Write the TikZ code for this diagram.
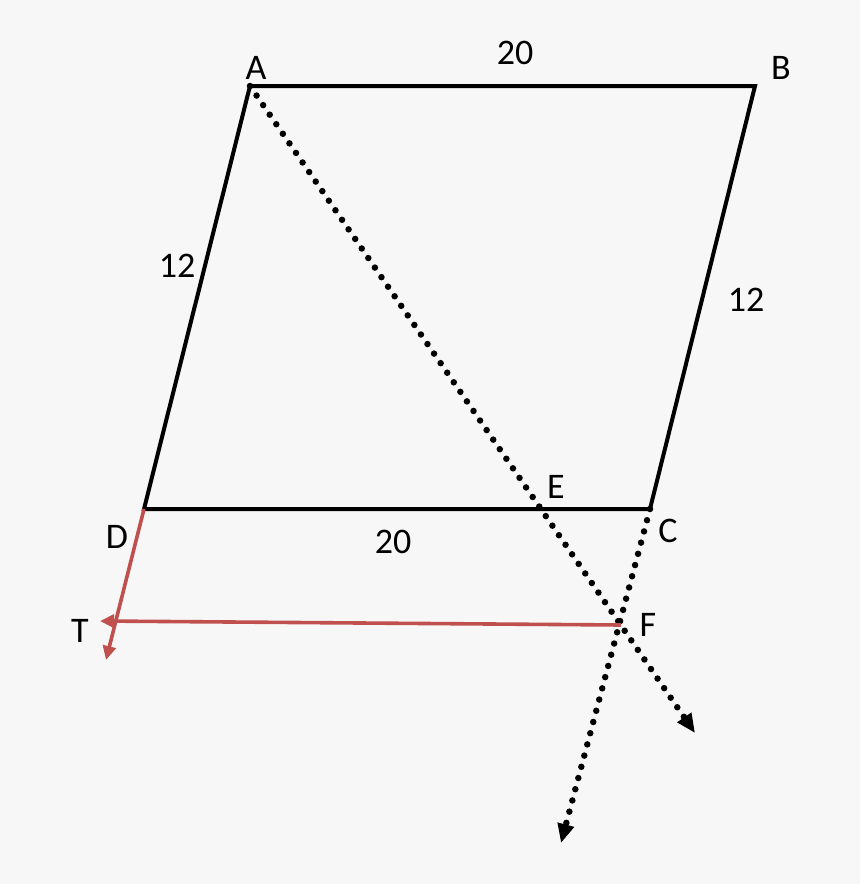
\documentclass[tikz,border=0pt]{standalone}
\usepackage{fontspec}
\setmainfont{Carlito}
\usetikzlibrary{arrows.meta}
\definecolor{bg}{HTML}{F7F7F7}
\definecolor{redl}{HTML}{C0504D}
\begin{document}
\begin{tikzpicture}[x=1pt,y=-1pt,
  edge/.style={line width=4pt,black,line join=miter},
  dotline/.style={line width=6.5pt,line cap=round,dash pattern=on 0pt off 11.6pt,-{Triangle[length=19pt,width=16pt]}},
  redline/.style={line width=3.6pt,redl,-{Triangle[length=14pt,width=13pt]}},
  lab/.style={font=\fontsize{36}{36}\selectfont,inner sep=0pt}]
\fill[bg] (0,0) rectangle (860,884);
\useasboundingbox (0,0) rectangle (860,884);
\coordinate (A) at (250,86);
\coordinate (B) at (755,86);
\coordinate (C) at (650,509);
\coordinate (D) at (144,509);
\coordinate (F) at (621,625);
\coordinate (T) at (100,621);
\coordinate (P) at (695,733);
\coordinate (Q) at (561,843);
\coordinate (R) at (106,660);
\draw[edge] (A) -- (B) -- (C) -- (D) -- cycle;
\draw[dotline] (A) -- (P);
\draw[dotline] (C) -- (Q);
\draw[redline] (D) -- (R);
\draw[redline] (F) -- (T);
\node[lab] (lA) at (256,68) {A};
\node[lab] (lB) at (781,68) {B};
\node[lab] (lC) at (668,531) {C};
\node[lab] (lD) at (117,537) {D};
\node[lab] (lE) at (556,487) {E};
\node[lab] (lF) at (648,625) {F};
\node[lab] (lT) at (80,631) {T};
\node[lab] (l1) at (515,53) {20};
\node[lab] (l2) at (393,542) {20};
\node[lab] (l3) at (177,266) {12};
\node[lab] (l4) at (746,300) {12};
\end{tikzpicture}
\end{document}
